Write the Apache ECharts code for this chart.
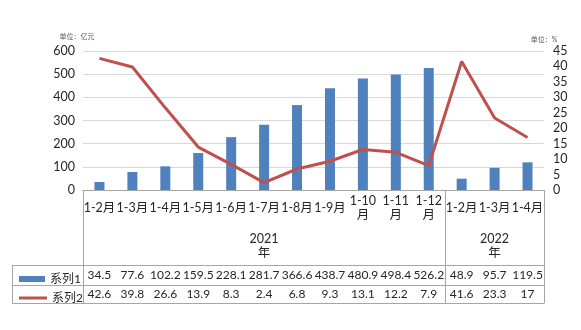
<!DOCTYPE html>
<html>
<head>
<meta charset="utf-8">
<script src="https://cdn.jsdelivr.net/npm/echarts@6/dist/echarts.min.js"></script>
<style>
  html, body { margin: 0; padding: 0; background: #fff; }
  #chart { width: 581px; height: 330px; }
</style>
</head>
<body>
<div id="chart"></div>
<script>
// Period labels (cumulative months) and the year each group belongs to
const months = ['1-2月', '1-3月', '1-4月', '1-5月', '1-6月', '1-7月', '1-8月', '1-9月',
  '1-10\n月', '1-11\n月', '1-12\n月', '1-2月', '1-3月', '1-4月'];
const years = ['2021\n年', '2022\n年'];
const yearSizes = [11, 3];

// 系列1: amount (亿元), 系列2: growth (%)
const series1 = [34.5, 77.6, 102.2, 159.5, 228.1, 281.7, 366.6, 438.7, 480.9, 498.4, 526.2, 48.9, 95.7, 119.5];
const series2 = [42.6, 39.8, 26.6, 13.9, 8.3, 2.4, 6.8, 9.3, 13.1, 12.2, 7.9, 41.6, 23.3, 17];

const leftTicks = { min: 0, max: 600, interval: 100 };
const rightTicks = { min: 0, max: 45, interval: 5 };

const FONT = 'Lato, "Noto Sans CJK SC", sans-serif';
const TXT = '#262626';
const BORDER = '#a6a6a6';
const BLUE = '#4f81bd';
const RED = '#c0504d';

// year group boundaries and centres on a 0..n value scale
const bounds = [0];
yearSizes.forEach(s => bounds.push(bounds[bounds.length - 1] + s));
const centers = yearSizes.map((s, i) => bounds[i] + s / 2);

const chart = echarts.init(document.getElementById('chart'), null, { renderer: 'canvas' });

const hLine = (x1, y1, x2, y2) => ({
  type: 'line', silent: true,
  shape: { x1, y1, x2, y2 },
  style: { stroke: BORDER, lineWidth: 1 }
});

chart.setOption({
  animation: false,
  textStyle: { fontFamily: FONT },
  grid: { left: 83, right: 37, top: 51, bottom: 140, containLabel: false },
  legend: [
    {
      data: [{ name: '系列1', icon: 'rect' }],
      left: 14, top: 268, itemWidth: 26, itemHeight: 6, itemGap: 8,
      textStyle: { fontSize: 12, color: TXT, fontFamily: FONT }
    },
    {
      data: [{ name: '系列2', icon: 'rect' }],
      left: 14, top: 287, itemWidth: 28, itemHeight: 3, itemGap: 6,
      itemStyle: { color: RED },
      textStyle: { fontSize: 12, color: TXT, fontFamily: FONT }
    }
  ],
  xAxis: [
    { // period row
      type: 'category', data: months, position: 'bottom',
      axisLine: { lineStyle: { color: BORDER } },
      axisTick: { length: 37, lineStyle: { color: BORDER } },
      axisLabel: { interval: 0, margin: 18, verticalAlign: 'middle', lineHeight: 14,
        fontSize: 12.5, color: TXT }
    },
    { // year row
      type: 'value', min: 0, max: bounds[bounds.length - 1], position: 'bottom',
      axisLine: { show: false }, splitLine: { show: false },
      axisTick: { show: true, customValues: bounds, length: 113, lineStyle: { color: BORDER } },
      axisLabel: {
        customValues: centers, margin: 56, verticalAlign: 'middle', lineHeight: 14,
        fontSize: 12.5, color: TXT,
        formatter: v => years[centers.indexOf(v)] || ''
      }
    },
    { // 系列1 value row
      type: 'category', data: months, position: 'bottom', offset: 75,
      axisLine: { lineStyle: { color: BORDER } },
      axisTick: { length: 38, lineStyle: { color: BORDER } },
      axisLabel: { interval: 0, margin: 10, verticalAlign: 'middle', fontSize: 12, color: TXT,
        formatter: (v, i) => String(series1[i]) }
    },
    { // 系列2 value row
      type: 'category', data: months, position: 'bottom', offset: 95,
      axisLine: { lineStyle: { color: BORDER } },
      axisTick: { show: false },
      axisLabel: { interval: 0, margin: 9, verticalAlign: 'middle', fontSize: 12, color: TXT,
        formatter: (v, i) => String(series2[i]) }
    },
    { // table bottom border
      type: 'category', data: months, position: 'bottom', offset: 113,
      axisLine: { lineStyle: { color: BORDER } },
      axisTick: { show: false }, axisLabel: { show: false }
    }
  ],
  yAxis: [
    {
      type: 'value', ...leftTicks, position: 'left',
      name: '单位：亿元', nameLocation: 'end', nameGap: 11,
      nameTextStyle: { fontSize: 7, color: '#595959', padding: [0, 12, 0, 0] },
      axisLine: { show: false }, axisTick: { show: false },
      axisLabel: { margin: 8, fontSize: 12.5, color: TXT },
      splitLine: { lineStyle: { color: '#d9d9d9' } }
    },
    {
      type: 'value', ...rightTicks, position: 'right',
      name: '单位：%', nameLocation: 'end', nameGap: 8,
      nameTextStyle: { fontSize: 7, color: '#595959' },
      axisLine: { show: false }, axisTick: { show: false },
      axisLabel: { margin: 9, fontSize: 12.5, color: TXT },
      splitLine: { show: false }
    }
  ],
  series: [
    {
      name: '系列1', type: 'bar', data: series1, xAxisIndex: 0, yAxisIndex: 0,
      barWidth: 10, itemStyle: { color: BLUE }
    },
    {
      name: '系列2', type: 'line', data: series2, xAxisIndex: 0, yAxisIndex: 1,
      symbol: 'none', lineStyle: { color: RED, width: 3 }, itemStyle: { color: RED }
    }
  ],
  graphic: [
    // legend column borders of the data table
    hLine(12, 265.5, 83, 265.5),
    hLine(12, 285.5, 83, 285.5),
    hLine(12, 303.5, 83, 303.5),
    hLine(12.5, 265, 12.5, 304)
  ]
});
</script>
</body>
</html>
